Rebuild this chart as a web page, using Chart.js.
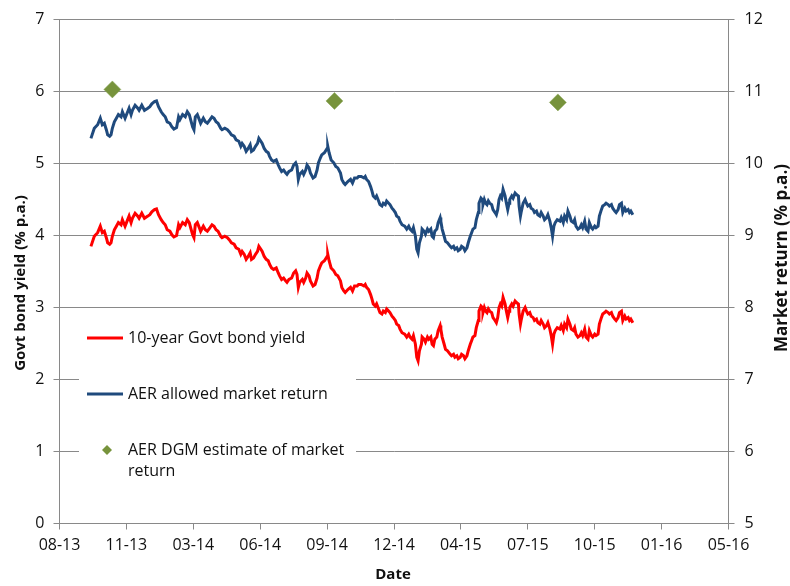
<!DOCTYPE html>
<html><head><meta charset="utf-8">
<script src="https://cdn.jsdelivr.net/npm/chart.js@4.4.0/dist/chart.umd.min.js"></script>
<style>html,body{margin:0;padding:0;background:#fff;}#wrap{width:790px;height:586px;position:relative;}</style>
</head><body><div id="wrap"><canvas id="c" width="790" height="586"></canvas></div>
<script>
// x tick labels (axis spans day 0 .. 1000 in steps of 100 days)
const tickLabels = ['08-13','11-13','03-14','06-14','09-14','12-14','04-15','07-15','10-15','01-16','05-16'];

// days since axis origin for each observation
const dayOffsets = [47,52,57,61,64,67,70,72,75,77,79,82,85,88,92,94,98,101,104,107,109,113,117,119,123,127,132,135,138,142,145,148,152,155,158,161,165,168,171,175,178,180,184,188,191,194,196,199,201,
203,206,209,211,215,218,221,225,228,231,234,237,241,243,247,251,254,257,261,264,268,271,273,276,279,282,285,287,290,293,296,298,301,303,306,309,312,314,317,320,324,327,329,332,335,338,340,343,347,350,353,355,357,359,363,
365,368,370,373,375,379,382,385,387,390,392,396,400,401,403,406,410,413,416,420,422,425,427,431,435,438,441,445,447,451,455,457,459,462,465,467,469,472,474,477,479,482,484,487,489,492,494,497,499,502,504,507,509,512,516,519,
522,524,527,529,532,534,536,538,541,542,545,547,550,552,555,557,559,561,564,566,569,570,572,575,577,580,584,586,589,591,594,596,599,601,604,606,609,611,614,616,618,621,623,626,627,630,632,633,635,637,639,641,643,646,648,651,653,655,657,659,661,663,666,668,670,672,673,676,678,681,683,686,687,689,690,693,
696,698,700,703,705,708,710,713,715,718,720,723,725,728,730,733,735,737,739,741,744,748,750,753,755,758,760,763,765,768,770,772,775,778,780,782,785,787,790,792,795,797,800,802,805,807,810,812,815,817,820,822,825,827,830,832,835,837,840,842,845,847,850,852,854,857];

// 10-year Govt bond yield (% p.a.), left axis
const bondYield = [3.85,3.99,4.04,4.13,4.04,4.06,3.97,3.90,3.88,3.90,3.99,4.08,4.13,4.18,4.15,4.22,4.13,4.20,4.27,4.18,4.24,4.31,4.27,4.24,4.31,4.24,4.27,4.29,4.33,4.36,4.37,4.29,4.22,4.18,4.15,4.08,4.06,4.01,3.98,4.00,4.15,4.11,4.18,4.15,4.22,4.18,4.11,4.01,3.97,
4.15,4.18,4.11,4.06,4.13,4.08,4.06,4.11,4.15,4.13,4.08,4.06,3.99,3.97,3.99,3.97,3.94,3.90,3.88,3.83,3.81,3.74,3.78,3.74,3.67,3.71,3.76,3.67,3.69,3.74,3.78,3.85,3.81,3.78,3.71,3.67,3.65,3.60,3.55,3.53,3.55,3.48,3.44,3.39,3.41,3.37,3.35,3.39,3.41,3.48,3.51,3.46,3.28,3.35,3.39,
3.35,3.41,3.48,3.44,3.37,3.30,3.32,3.41,3.51,3.58,3.62,3.65,3.71,3.74,3.65,3.55,3.51,3.46,3.44,3.37,3.28,3.23,3.21,3.25,3.28,3.23,3.30,3.30,3.32,3.32,3.30,3.32,3.28,3.25,3.18,3.12,3.05,3.02,3.05,2.98,2.93,2.91,2.95,2.93,2.98,2.95,2.93,2.88,2.86,2.82,2.77,2.75,2.70,2.65,2.63,2.59,
2.63,2.59,2.56,2.61,2.49,2.31,2.26,2.40,2.49,2.59,2.56,2.52,2.59,2.56,2.59,2.49,2.47,2.56,2.59,2.68,2.75,2.70,2.59,2.49,2.42,2.40,2.35,2.33,2.35,2.31,2.33,2.29,2.31,2.35,2.33,2.29,2.33,2.40,2.49,2.54,2.59,2.61,2.72,2.82,2.95,3.02,3.00,2.93,3.00,2.95,2.93,2.98,2.95,2.93,2.86,2.82,2.79,2.86,3.00,3.05,3.02,3.14,3.05,2.95,2.86,2.95,3.00,3.05,3.02,3.09,3.07,3.05,2.91,2.77,2.82,2.95,
3.00,2.95,2.91,2.93,2.88,2.86,2.82,2.84,2.79,2.77,2.82,2.77,2.72,2.75,2.79,2.70,2.61,2.49,2.63,2.68,2.72,2.70,2.75,2.68,2.77,2.72,2.84,2.77,2.70,2.68,2.72,2.63,2.59,2.61,2.65,2.61,2.70,2.59,2.56,2.68,2.61,2.59,2.63,2.61,2.63,2.77,2.86,2.91,2.93,2.95,2.93,2.91,2.93,2.88,2.84,2.82,2.86,2.93,2.95,2.82,2.88,2.84,2.86,2.82,2.84,2.79];

// AER allowed market return (% p.a.), right axis
const marketReturn = [10.35,10.49,10.54,10.63,10.54,10.56,10.47,10.40,10.38,10.40,10.49,10.58,10.63,10.68,10.65,10.72,10.63,10.70,10.77,10.68,10.74,10.81,10.77,10.74,10.81,10.74,10.77,10.79,10.83,10.86,10.87,10.79,10.72,10.68,10.65,10.58,10.56,10.51,10.48,10.50,10.65,10.61,10.68,10.65,10.72,10.68,10.61,10.51,10.47,
10.65,10.68,10.61,10.56,10.63,10.58,10.56,10.61,10.65,10.63,10.58,10.56,10.49,10.47,10.49,10.47,10.44,10.40,10.38,10.33,10.31,10.24,10.28,10.24,10.17,10.21,10.26,10.17,10.19,10.24,10.28,10.35,10.31,10.28,10.21,10.17,10.15,10.10,10.05,10.03,10.05,9.98,9.94,9.89,9.91,9.87,9.85,9.89,9.91,9.98,10.01,9.96,9.78,9.85,9.89,
9.85,9.91,9.98,9.94,9.87,9.80,9.82,9.91,10.01,10.08,10.12,10.15,10.21,10.24,10.15,10.05,10.01,9.96,9.94,9.87,9.78,9.73,9.71,9.75,9.78,9.73,9.80,9.80,9.82,9.82,9.80,9.82,9.78,9.75,9.68,9.62,9.55,9.52,9.55,9.48,9.43,9.41,9.45,9.43,9.48,9.45,9.43,9.38,9.36,9.32,9.27,9.25,9.20,9.15,9.13,9.09,
9.13,9.09,9.06,9.11,8.99,8.81,8.76,8.90,8.99,9.09,9.06,9.02,9.09,9.06,9.09,8.99,8.97,9.06,9.09,9.18,9.25,9.20,9.09,8.99,8.92,8.90,8.85,8.83,8.85,8.81,8.83,8.79,8.81,8.85,8.83,8.79,8.83,8.90,8.99,9.04,9.09,9.11,9.22,9.32,9.45,9.52,9.50,9.43,9.50,9.45,9.43,9.48,9.45,9.43,9.36,9.32,9.29,9.36,9.50,9.55,9.52,9.64,9.55,9.45,9.36,9.45,9.50,9.55,9.52,9.59,9.57,9.55,9.41,9.27,9.32,9.45,
9.50,9.45,9.41,9.43,9.38,9.36,9.32,9.34,9.29,9.27,9.32,9.27,9.22,9.25,9.29,9.20,9.11,8.99,9.13,9.18,9.22,9.20,9.25,9.18,9.27,9.22,9.34,9.27,9.20,9.18,9.22,9.13,9.09,9.11,9.15,9.11,9.20,9.09,9.06,9.18,9.11,9.09,9.13,9.11,9.13,9.27,9.36,9.41,9.43,9.45,9.43,9.41,9.43,9.38,9.34,9.32,9.36,9.43,9.45,9.32,9.38,9.34,9.36,9.32,9.34,9.29];

// AER DGM estimate of market return (% p.a.), right axis
const dgmDays = [79, 411, 745];
const dgmEstimate = [11.03, 10.87, 10.85];

const seriesNames = ['10-year Govt bond yield', 'AER allowed market return', 'AER DGM estimate of market return'];
const axisTitles = { left: 'Govt bond yield (% p.a.)', right: 'Market return (% p.a.)', bottom: 'Date' };

const FONT = "'Open Sans', 'DejaVu Sans', sans-serif";
const GRID = '#898989';
const TXT = '#111111';
const RED = '#ff0000', BLUE = '#1f4a7d', OLIVE = '#77933c';

const toXY = (xs, ys) => xs.map((x, i) => ({ x, y: ys[i] }));

const overlay = {
  id: 'overlay',
  beforeDatasetsDraw(chart) {
    const ctx = chart.ctx;
    ctx.save();
    ctx.fillStyle = '#ffffff';
    ctx.fillRect(79, 316, 277, 170);
    ctx.font = '16px ' + FONT;
    ctx.textBaseline = 'middle';
    ctx.textAlign = 'left';
    const ds = chart.data.datasets;
    const rows = [338, 394, 450];
    ds.forEach((d, i) => {
      const y = rows[i];
      if (i < 2) {
        ctx.strokeStyle = d.borderColor; ctx.lineWidth = 3;
        ctx.beginPath(); ctx.moveTo(87, y); ctx.lineTo(123, y); ctx.stroke();
      } else {
        ctx.fillStyle = d.backgroundColor;
        ctx.beginPath(); ctx.moveTo(107, y - 5); ctx.lineTo(112, y); ctx.lineTo(107, y + 5); ctx.lineTo(102, y); ctx.closePath(); ctx.fill();
      }
      ctx.fillStyle = TXT;
      const words = d.label.split(' ');
      let line = '', ly = y;
      const maxW = 222;
      words.forEach(w => {
        const test = line ? line + ' ' + w : w;
        if (ctx.measureText(test).width > maxW && line) {
          ctx.fillText(line, 128, ly); line = w; ly += 21;
        } else line = test;
      });
      ctx.fillText(line, 128, ly);
    });
    ctx.restore();
  },
  afterDraw(chart) {
    const ctx = chart.ctx;
    ctx.save();
    ctx.fillStyle = TXT;
    ctx.textAlign = 'center'; ctx.textBaseline = 'middle';
    ctx.font = 'bold 15px ' + FONT;
    ctx.save(); ctx.translate(21, 283); ctx.rotate(-Math.PI / 2); ctx.fillText(axisTitles.left, 0, 0); ctx.restore();
    ctx.font = 'bold 17px ' + FONT;
    ctx.save(); ctx.translate(782, 258); ctx.rotate(-Math.PI / 2); ctx.fillText(axisTitles.right, 0, 0); ctx.restore();
    ctx.font = 'bold 15px ' + FONT;
    ctx.fillText(axisTitles.bottom, 393, 575);
    ctx.restore();
  }
};

new Chart(document.getElementById('c'), {
  type: 'line',
  data: {
    datasets: [
      { label: seriesNames[0], data: toXY(dayOffsets, bondYield), yAxisID: 'y', borderColor: RED, backgroundColor: RED, borderWidth: 3, pointRadius: 0, tension: 0 },
      { label: seriesNames[1], data: toXY(dayOffsets, marketReturn), yAxisID: 'y2', borderColor: BLUE, backgroundColor: BLUE, borderWidth: 3, pointRadius: 0, tension: 0 },
      { label: seriesNames[2], data: toXY(dgmDays, dgmEstimate), yAxisID: 'y2', showLine: false, pointStyle: 'rectRot', pointRadius: 8.5, backgroundColor: OLIVE, borderColor: '#8aa65a', borderWidth: 0.5 }
    ]
  },
  options: {
    responsive: false,
    animation: false,
    layout: { padding: { top: 18, left: 0, right: 0, bottom: 0 } },
    plugins: { legend: { display: false }, tooltip: { enabled: false }, title: { display: false } },
    scales: {
      x: {
        type: 'linear', min: 0, max: 1000,
        afterFit: s => { s.height = 62.5; },
        afterBuildTicks: s => { s.ticks = tickLabels.map((_, i) => ({ value: i * 100 })); },
        ticks: { autoSkip: false, maxRotation: 0, padding: 6, color: TXT, font: { family: FONT, size: 16 }, callback: v => tickLabels[Math.round(v / 100)] },
        grid: { drawOnChartArea: false, drawTicks: true, tickLength: 6, color: GRID },
        border: { display: true, color: GRID }
      },
      y: {
        position: 'left', min: 0, max: 7,
        afterFit: s => { s.width = 59.5; },
        ticks: { stepSize: 1, padding: 9, color: TXT, font: { family: FONT, size: 16 } },
        grid: { drawOnChartArea: true, drawTicks: true, tickLength: 6, color: GRID },
        border: { display: true, color: GRID }
      },
      y2: {
        position: 'right', min: 5, max: 12,
        afterFit: s => { s.width = 61.5; },
        ticks: { stepSize: 1, padding: 10, color: TXT, font: { family: FONT, size: 16 } },
        grid: { drawOnChartArea: false, drawTicks: true, tickLength: 6, color: GRID },
        border: { display: true, color: GRID }
      }
    }
  },
  plugins: [overlay]
});
</script></body></html>
